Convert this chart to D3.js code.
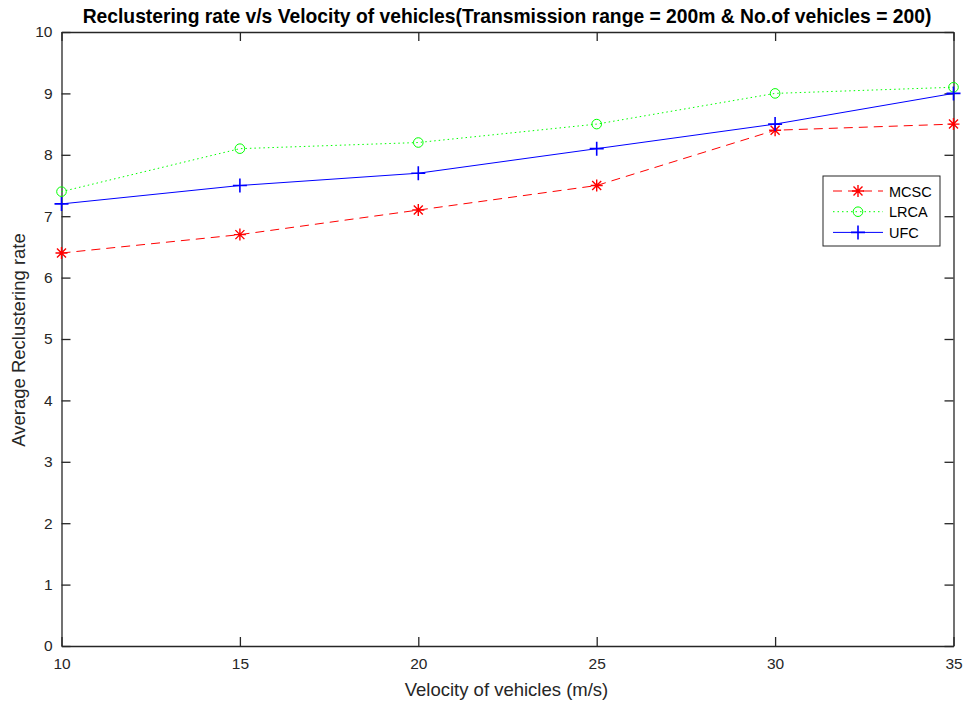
<!doctype html>
<html>
    <head>
        <title>Reclustering rate</title>
        <style>
            body { margin: 0; overflow: hidden; background: #fff; }
            text { font-family: "Liberation Sans", Arial, sans-serif; }
        </style>
    </head>
    <body>
        <script src="https://cdn.jsdelivr.net/npm/d3@7"></script>
        <script>
            const velocity = [10, 15, 20, 25, 30, 35];
            const mcsc = [6.4, 6.7, 7.1, 7.5, 8.4, 8.5];
            const lrca = [7.4, 8.1, 8.2, 8.5, 9.0, 9.1];
            const ufc = [7.2, 7.5, 7.7, 8.1, 8.5, 9.0];
            const yTicks = d3.range(0, 11);
            const seriesNames = ['MCSC', 'LRCA', 'UFC'];

            const width = 964, height = 702;
            const plotLeft = 61.5, plotRight = 953.5, plotTop = 32, plotBottom = 646;

            const svg = d3.select('body').append('svg')
                .attr('width', width).attr('height', height);

            const x = d3.scaleLinear().domain([10, 35]).range([plotLeft, plotRight]);
            const y = d3.scaleLinear().domain([0, 10]).range([plotBottom, plotTop]);

            const ax = '#262626';

            // axes (ticks pointing inward)
            svg.append('g').attr('transform', `translate(0,${plotBottom})`)
                .call(d3.axisBottom(x).tickValues(velocity).tickSize(-9).tickPadding(12).tickSizeOuter(0));
            svg.append('g').attr('transform', `translate(0,${plotTop})`)
                .call(d3.axisTop(x).tickValues(velocity).tickSize(-9).tickFormat('').tickSizeOuter(0));
            svg.append('g').attr('transform', `translate(${plotLeft},0)`)
                .call(d3.axisLeft(y).tickValues(yTicks).tickSize(-9).tickPadding(9).tickSizeOuter(0));
            svg.append('g').attr('transform', `translate(${plotRight},0)`)
                .call(d3.axisRight(y).tickValues(yTicks).tickSize(-9).tickFormat('').tickSizeOuter(0));

            svg.selectAll('.domain, .tick line').attr('stroke', ax).attr('stroke-width', 1.3);
            svg.selectAll('.tick text').attr('fill', ax).attr('font-size', 15.5)
                .attr('font-family', '"Liberation Sans", Arial, sans-serif');

            const series = [
                { name: 'MCSC', values: mcsc, color: '#ff0000', dash: '9,6', marker: 'star' },
                { name: 'LRCA', values: lrca, color: '#00ff00', dash: '1.5,3', marker: 'circle' },
                { name: 'UFC', values: ufc, color: '#0000ff', dash: null, marker: 'plus' }
            ];

            const line = d3.line().x((d, i) => x(velocity[i])).y(d => y(d));

            function marker(g, type, color) {
                if (type === 'circle') {
                    g.append('circle').attr('r', 4.8).attr('fill', 'none')
                        .attr('stroke', color).attr('stroke-width', 1);
                } else if (type === 'plus') {
                    g.append('path').attr('d', 'M-7,0H7M0,-7V7')
                        .attr('stroke', color).attr('stroke-width', 1.6);
                } else {
                    g.append('path').attr('d', 'M-6,0H6M0,-6V6M-4.5,-4.5L4.5,4.5M-4.5,4.5L4.5,-4.5')
                        .attr('stroke', color).attr('stroke-width', 1.4);
                }
            }

            series.forEach(s => {
                svg.append('path').datum(s.values)
                    .attr('d', line).attr('fill', 'none')
                    .attr('stroke', s.color).attr('stroke-width', 1)
                    .attr('stroke-dasharray', s.dash);
                s.values.forEach((v, i) => {
                    const g = svg.append('g').attr('transform', `translate(${x(velocity[i])},${y(v)})`);
                    marker(g, s.marker, s.color);
                });
            });

            // legend
            const lg = svg.append('g').attr('transform', 'translate(823,176)');
            lg.append('rect').attr('width', 117).attr('height', 70)
                .attr('fill', '#fff').attr('stroke', ax).attr('stroke-width', 1);
            series.forEach((s, i) => {
                const yy = 15 + i * 20.7;
                lg.append('line').attr('x1', 10).attr('x2', 60).attr('y1', yy).attr('y2', yy)
                    .attr('stroke', s.color).attr('stroke-width', 1)
                    .attr('stroke-dasharray', s.dash);
                const g = lg.append('g').attr('transform', `translate(35,${yy})`);
                marker(g, s.marker, s.color);
                lg.append('text').attr('x', 66).attr('y', yy + 5.5)
                    .attr('font-size', 14.5).attr('fill', '#000').text(seriesNames[i]);
            });

            // labels
            svg.append('text').attr('x', 507).attr('y', 23)
                .attr('text-anchor', 'middle').attr('font-size', 19.3).attr('font-weight', 'bold')
                .attr('fill', '#000')
                .text('Reclustering rate v/s Velocity of vehicles(Transmission range = 200m & No.of vehicles = 200)');
            svg.append('text').attr('x', 506.5).attr('y', 696)
                .attr('text-anchor', 'middle').attr('font-size', 18.5).attr('fill', ax)
                .text('Velocity of vehicles (m/s)');
            svg.append('text').attr('transform', `translate(25,340) rotate(-90)`)
                .attr('text-anchor', 'middle').attr('font-size', 18.5).attr('fill', ax)
                .text('Average Reclustering rate');
        </script>
    </body>
</html>
